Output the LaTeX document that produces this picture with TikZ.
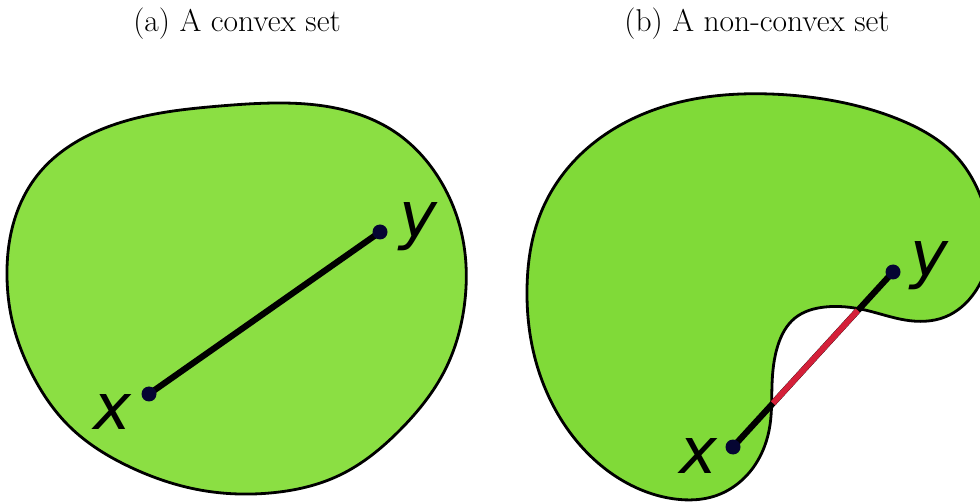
\documentclass[tikz,border=0pt]{standalone}
\usepackage{fontspec}
\newfontfamily\labelfont{DejaVu Sans}
\usetikzlibrary{calc,hobby}
\definecolor{greenA}{RGB}{139,223,67}
\definecolor{greenB}{RGB}{128,218,56}
\definecolor{segred}{RGB}{212,32,57}
\definecolor{dotnavy}{RGB}{5,5,50}
\tikzset{
  outline/.style={draw=black, line width=2.8pt},
  seg/.style={line width=6.2pt, black},
  badseg/.style={line width=5.8pt, segred},
  dotnode/.style={circle, fill=dotnavy, inner sep=0pt, minimum size=15pt},
  varlabel/.style={anchor=base, inner sep=0pt, font=\labelfont\itshape\fontsize{64}{70}\selectfont},
  titlelabel/.style={anchor=base, inner sep=0pt, font=\fontsize{31.5}{36}\selectfont}
}
\begin{document}
\begin{tikzpicture}[x=1pt, y=-1pt]
\useasboundingbox (0,0) rectangle (980,502);
% titles
\node[titlelabel] (ta) at (237,32) {(a) A convex set};
\node[titlelabel] (tb) at (757,32) {(b) A non-convex set};
% left convex shape
\path[fill=greenA, outline, use Hobby shortcut, closed=true]
 (7,277) .. (15,218) .. (40,172) .. (85,137) .. (150,115) .. (220,106) .. (277,103)
 .. (340,109) .. (395,132) .. (440,180) .. (463,240) .. (465,300) .. (445,370)
 .. (400,430) .. (340,475) .. (270,493) .. (200,490) .. (130,467) .. (70,427)
 .. (30,370) .. (12,320);
\coordinate (x1) at (149,394);
\coordinate (y1) at (380,232);
\draw[seg] (x1) -- (y1);
\node[dotnode] (dx1) at (x1) {};
\node[dotnode] (dy1) at (y1) {};
\node[varlabel] (lx1) at (112,430) {x};
\node[varlabel] (ly1) at (418,238) {y};
% right non-convex shape
\begin{scope}
\clip (0,0) rectangle (980,502);
\path[fill=greenB, outline, use Hobby shortcut, closed=true]
 (527,290) .. (540,215) .. (575,160) .. (630,120) .. (700,98) .. (770,94)
 .. (840,102) .. (905,122) .. (955,155) .. (982,200) .. (990,245) .. (975,292)
 .. (945,317) .. (905,320) .. (865,310) .. (825,307) .. (795,318) .. (778,345)
 .. (772,385) .. (770,425) .. (755,465) .. (715,496) .. (675,499) .. (625,482)
 .. (580,445) .. (548,395) .. (531,340);
\end{scope}
\coordinate (x2) at (733,447);
\coordinate (y2) at (893,272);
\draw[seg] (x2) -- (y2);
\coordinate (r1) at ($(x2)!0.25!(y2)$);
\coordinate (r2) at ($(x2)!0.78!(y2)$);
\draw[badseg] (r1) -- (r2);
\node[dotnode] (dx2) at (x2) {};
\node[dotnode] (dy2) at (y2) {};
\node[varlabel] (lx2) at (698,473) {x};
\node[varlabel] (ly2) at (929,277) {y};
\end{tikzpicture}
\end{document}
